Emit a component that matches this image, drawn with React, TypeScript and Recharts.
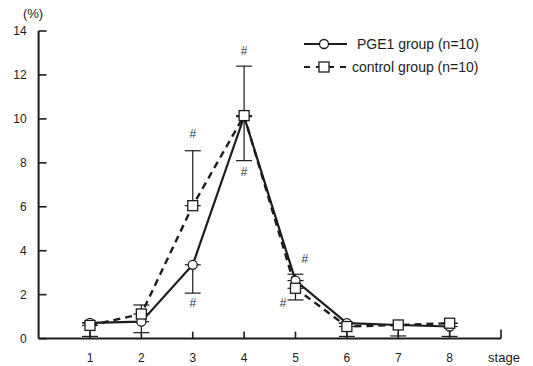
import { ComposedChart, Line, XAxis, YAxis, ErrorBar, Scatter } from "recharts";

const STAGES = [1, 2, 3, 4, 5, 6, 7, 8];
const PGE1 = [0.72, 0.77, 3.36, 10.1, 2.64, 0.7, 0.62, 0.55];
// [lower, upper] deltas
const PGE1_ERR = [[0, 0], [0.5, 0], [1.29, 0], [2.0, 0], [0, 0.29], [0, 0], [0.5, 0], [0.45, 0]];
const CONTROL = [0.6, 1.12, 6.05, 10.15, 2.29, 0.55, 0.62, 0.7];
const CONTROL_ERR = [[0.5, 0], [0, 0.41], [0, 2.5], [0, 2.25], [0.53, 0], [0.45, 0], [0, 0], [0, 0]];

const Y_TICKS = [0, 2, 4, 6, 8, 10, 12, 14];
const X_TICKS = [1, 2, 3, 4, 5, 6, 7, 8, 9];

// "#" significance marks
const HASH_STAGE = [3, 3, 4, 4, 5.18, 4.76];
const HASH_VALUE = [9.33, 1.6, 13.1, 7.6, 3.62, 1.61];

const data = STAGES.map((s, i) => ({ stage: s, pge: PGE1[i], errP: PGE1_ERR[i], ctrl: CONTROL[i], errC: CONTROL_ERR[i] }));
const hashes = HASH_STAGE.map((s, i) => ({ stage: s, v: HASH_VALUE[i] }));

const INK = "#1c1c1c";
const FONT = "'Liberation Sans', Arial, Helvetica, sans-serif";

const YTick = ({ x, y, payload }: any) => (
  <g>
    <line x1={x} x2={x + 8} y1={y} y2={y} stroke={INK} strokeWidth={1.6} />
    <text x={x - 12} y={y + 4.3} textAnchor="end" fontSize={12} fill={INK} fontFamily={FONT}>{payload.value}</text>
  </g>
);

const XTick = ({ x, y, payload }: any) => (
  <g>
    <line x1={x} x2={x} y1={y} y2={payload.value === 9 ? y - 9 : y - 7} stroke={INK} strokeWidth={1.6} />
    {payload.value !== 9 && (
      <text x={x} y={y + 23} textAnchor="middle" fontSize={12} fill={INK} fontFamily={FONT}>{payload.value}</text>
    )}
  </g>
);

const CircleDot = ({ cx, cy, index }: any) => (
  <circle key={`c${index}`} cx={cx} cy={cy} r={4.5} fill="#fff" stroke={INK} strokeWidth={1.3} />
);

const SquareDot = ({ cx, cy, index }: any) => (
  <rect key={`s${index}`} x={cx - 5} y={cy - 5} width={10} height={10} fill="#fff" stroke={INK} strokeWidth={1.3} />
);

const Hash = ({ cx, cy }: any) => (
  <text x={cx} y={cy + 4} textAnchor="middle" fontSize={12} fill="#333" stroke="none" fontFamily={FONT}>#</text>
);

export default function App() {
  return (
    <div style={{ position: "absolute", left: 0, top: 0, width: 533, height: 366, background: "#fff", fontFamily: FONT }}>
      <ComposedChart width={533} height={366} data={data} margin={{ top: 31, right: 32, left: 0, bottom: 0 }}>
        <XAxis type="number" dataKey="stage" domain={[0, 9]} ticks={X_TICKS} height={27.4}
          axisLine={{ stroke: INK, strokeWidth: 2 }} tickLine={false} tickSize={0} tickMargin={0} tick={<XTick />} />
        <YAxis type="number" domain={[0, 14]} ticks={Y_TICKS} width={38.6}
          axisLine={{ stroke: INK, strokeWidth: 2 }} tickLine={false} tickSize={0} tickMargin={0} tick={<YTick />} />
        <Line dataKey="pge" stroke={INK} strokeWidth={2.2} dot={<CircleDot />} activeDot={false} isAnimationActive={false}>
          <ErrorBar dataKey="errP" direction="y" width={8} stroke={INK} strokeWidth={1.2} />
        </Line>
        <Line dataKey="ctrl" stroke={INK} strokeWidth={2.4} strokeDasharray="7 5" dot={<SquareDot />} activeDot={false} isAnimationActive={false}>
          <ErrorBar dataKey="errC" direction="y" width={8} stroke={INK} strokeWidth={1.2} />
        </Line>
        <Scatter data={hashes} dataKey="v" fill="#333" shape={<Hash />} isAnimationActive={false} />
      </ComposedChart>

      <svg width={533} height={366} style={{ position: "absolute", left: 0, top: 0, pointerEvents: "none" }}>
        <text x={33} y={18} textAnchor="middle" fontSize={13} fill={INK} fontFamily={FONT}>(%)</text>
        <text x={504} y={361.5} textAnchor="middle" fontSize={13} fill={INK} fontFamily={FONT}>stage</text>

        {/* legend */}
        <line x1={304} x2={347} y1={44} y2={44} stroke={INK} strokeWidth={1.8} />
        <circle cx={324} cy={44} r={4.5} fill="#fff" stroke={INK} strokeWidth={1.3} />
        <text x={357} y={49} fontSize={14} fill={INK} fontFamily={FONT}>PGE1 group (n=10)</text>

        <line x1={304} x2={347} y1={67} y2={67} stroke={INK} strokeWidth={2} strokeDasharray="6 6" />
        <line x1={316} x2={332} y1={67} y2={67} stroke={INK} strokeWidth={1.5} />
        <rect x={319} y={62} width={10} height={10} fill="#fff" stroke={INK} strokeWidth={1.3} />
        <text x={352} y={72} fontSize={14} fill={INK} fontFamily={FONT}>control group (n=10)</text>
      </svg>
    </div>
  );
}
